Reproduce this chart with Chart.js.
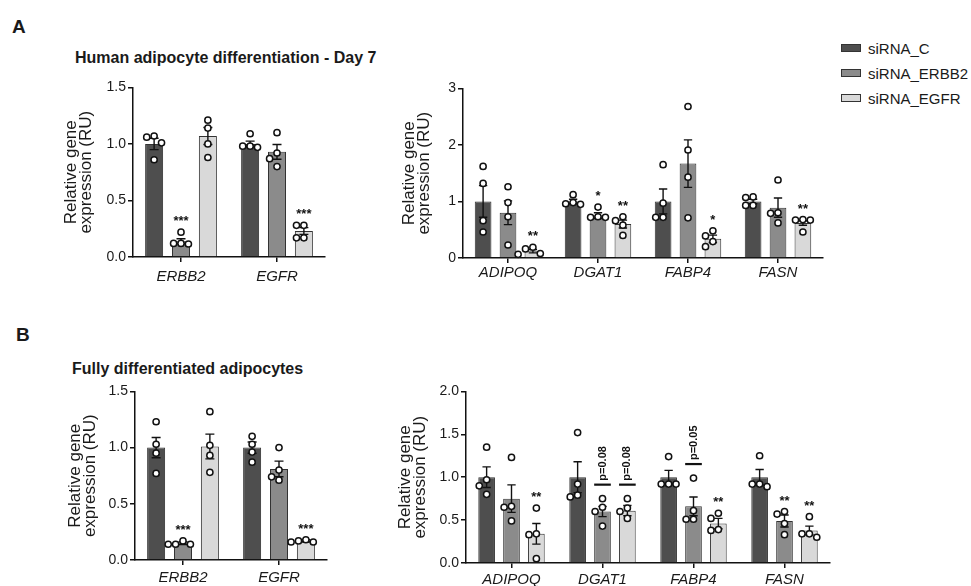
<!DOCTYPE html>
<html lang="en">
  <head>
    <meta charset="UTF-8" />
    <title>siRNA adipocyte gene expression</title>
    <script src="https://cdn.jsdelivr.net/npm/chart.js@4.4.1/dist/chart.umd.min.js"></script>
    <style>
      body { margin: 0; width: 971px; height: 586px; position: relative; background: #fff; overflow: hidden;
             font-family: "Liberation Sans", Arial, Helvetica, sans-serif; color: #1a1a1a; }
      canvas { position: absolute; }
      .txt { position: absolute; white-space: nowrap; line-height: 1; }
      .letter { font-weight: bold; font-size: 19px; }
      .title { font-weight: bold; font-size: 16px; }
      .leg { position: absolute; left: 841px; height: 18px; display: flex; align-items: center; font-size: 15px; }
      .leg span.box { width: 20px; height: 8px; border: 1px solid #333; box-sizing: border-box; margin-right: 7px; }
    </style>
  </head>
  <body>
    <div class="txt letter" style="left:12px; top:17px">A</div>
    <div class="txt letter" style="left:16px; top:325px">B</div>
    <div class="txt title" style="left:75px; top:50px">Human adipocyte differentiation - Day 7</div>
    <div class="txt title" style="left:72px; top:361px">Fully differentiated adipocytes</div>
    <div id="legend"></div>

    <canvas id="aLeft" width="269" height="210" style="left:64px; top:77px"></canvas>
    <canvas id="aRight" width="429" height="210" style="left:402px; top:78px"></canvas>
    <canvas id="bLeft" width="267" height="205" style="left:68px; top:381px"></canvas>
    <canvas id="bRight" width="440" height="205" style="left:398px; top:381px"></canvas>

    <script>
      // groups
      const groups = ["siRNA_C", "siRNA_ERBB2", "siRNA_EGFR"]
      const groupColors = ["#4e4e4e", "#8b8b8b", "#d9d9d9"]

      // A, left: knockdown targets, day 7
      const aLeftGenes = ["ERBB2", "EGFR"]
      const aLeftYTicks = ["0.0", "0.5", "1.0", "1.5"]
      const aLeftMeans = [[1.0, 1.0], [0.14, 0.93], [1.07, 0.23]]
      const aLeftSems = [[0.05, 0.025], [0.022, 0.065], [0.075, 0.03]]
      const aLeftPoints = [
        [[1.07, 1.06, 0.86, 1.01], [1.09, 0.98, 0.97, 0.98]],
        [[0.22, 0.12, 0.115, 0.12], [1.1, 0.92, 0.87, 0.8]],
        [[1.21, 1.14, 1.0, 0.88], [0.28, 0.28, 0.17, 0.17]],
      ]
      const aLeftSig = [["", ""], ["***", ""], ["", "***"]]

      // A, right: adipogenic markers, day 7
      const aRightGenes = ["ADIPOQ", "DGAT1", "FABP4", "FASN"]
      const aRightYTicks = ["0", "1", "2", "3"]
      const aRightMeans = [[1.0, 1.0, 1.0, 1.0], [0.8, 0.75, 1.67, 0.89], [0.12, 0.6, 0.34, 0.62]]
      const aRightSems = [[0.28, 0.04, 0.22, 0.04], [0.21, 0.05, 0.42, 0.17], [0.03, 0.07, 0.065, 0.04]]
      const aRightPoints = [
        [[1.62, 1.32, 0.66, 0.46], [1.12, 0.98, 0.96, 0.95], [1.65, 0.97, 0.72, 0.72], [1.08, 1.07, 0.93, 0.93]],
        [[1.26, 0.98, 0.73, 0.23], [0.9, 0.73, 0.72, 0.72], [2.68, 1.91, 1.43, 0.71], [1.38, 0.8, 0.79, 0.62]],
        [[0.065, 0.16, 0.19, 0.08], [0.73, 0.66, 0.58, 0.4], [0.48, 0.39, 0.29, 0.2], [0.68, 0.67, 0.67, 0.46]],
      ]
      const aRightSig = [["", "", "", ""], ["", "*", "", ""], ["**", "**", "*", "**"]]

      // B, left: knockdown targets, mature adipocytes
      const bLeftGenes = ["ERBB2", "EGFR"]
      const bLeftYTicks = ["0.0", "0.5", "1.0", "1.5"]
      const bLeftMeans = [[1.0, 1.0], [0.15, 0.81], [1.01, 0.17]]
      const bLeftSems = [[0.09, 0.05], [0.012, 0.07], [0.11, 0.01]]
      const bLeftPoints = [
        [[1.23, 1.03, 0.95, 0.77], [1.1, 1.03, 0.96, 0.87]],
        [[0.17, 0.14, 0.14, 0.14], [1.0, 0.8, 0.74, 0.71]],
        [[1.32, 1.02, 0.93, 0.78], [0.18, 0.17, 0.16, 0.16]],
      ]
      const bLeftSig = [["", ""], ["***", ""], ["", "***"]]

      // B, right: adipogenic markers, mature adipocytes
      const bRightGenes = ["ADIPOQ", "DGAT1", "FABP4", "FASN"]
      const bRightYTicks = ["0.0", "0.5", "1.0", "1.5", "2.0"]
      const bRightMeans = [[1.0, 1.0, 1.0, 1.0], [0.75, 0.6, 0.66, 0.49], [0.34, 0.61, 0.46, 0.38]]
      const bRightSems = [[0.12, 0.18, 0.08, 0.09], [0.16, 0.06, 0.11, 0.07], [0.12, 0.06, 0.06, 0.05]]
      const bRightPoints = [
        [[1.35, 0.97, 0.9, 0.8], [1.52, 0.92, 0.79, 0.77], [1.24, 0.92, 0.92, 0.92], [1.25, 0.92, 0.92, 0.89]],
        [[1.23, 0.66, 0.65, 0.49], [0.75, 0.65, 0.6, 0.43], [0.99, 0.61, 0.51, 0.51], [0.6, 0.57, 0.46, 0.33]],
        [[0.64, 0.34, 0.33, 0.05], [0.75, 0.64, 0.6, 0.52], [0.58, 0.52, 0.39, 0.38], [0.54, 0.34, 0.34, 0.3]],
      ]
      const bRightSig = [["", "", "", ""], ["", "p=0.08", "p=0.05", "**"], ["**", "p=0.08", "**", "**"]]

      const FONT = '"Liberation Sans", Arial, Helvetica, sans-serif'

      // legend
      const legend = document.getElementById("legend")
      groups.forEach((g, i) => {
        const row = document.createElement("div")
        row.className = "leg"
        row.style.top = 39 + i * 25 + "px"
        row.innerHTML = '<span class="box" style="background:' + groupColors[i] + '"></span>' + g
        legend.appendChild(row)
      })

      // error bars, dots and significance marks
      const dotPlugin = {
        id: "dots",
        afterDatasetsDraw(chart, args, opts) {
          const ctx = chart.ctx
          const y = chart.scales.y
          chart.data.datasets.forEach((ds, i) => {
            chart.getDatasetMeta(i).data.forEach((bar, j) => {
              const m = ds.data[j]
              const s = opts.sems[i][j]
              const x = bar.x
              const hw = bar.width / 4
              const top = y.getPixelForValue(m + s)
              const bot = y.getPixelForValue(m - s)
              ctx.save()
              ctx.strokeStyle = "#111"
              ctx.lineWidth = 1.4
              ctx.beginPath()
              ctx.moveTo(x, bot)
              ctx.lineTo(x, top)
              ctx.moveTo(x - hw, top)
              ctx.lineTo(x + hw, top)
              ctx.moveTo(x - hw, bot)
              ctx.lineTo(x + hw, bot)
              ctx.stroke()

              // little swarm so dots at the same level sit side by side
              const r = 3.1
              const vals = opts.points[i][j].slice().sort((a, b) => b - a)
              const placed = []
              vals.forEach((v) => {
                const py = y.getPixelForValue(v)
                let px = x
                for (const k of [0, -1, 1, -2, 2]) {
                  px = x + k * (2 * r + 1.2)
                  if (placed.every((p) => Math.hypot(p[0] - px, p[1] - py) >= 2 * r + 1)) break
                }
                placed.push([px, py])
              })
              ctx.lineWidth = 1.5
              ctx.fillStyle = "#fff"
              placed.forEach((p) => {
                ctx.beginPath()
                ctx.arc(p[0], p[1], r, 0, Math.PI * 2)
                ctx.fill()
                ctx.stroke()
              })

              const label = opts.sig[i][j]
              if (label) {
                const highest = Math.min(top, ...placed.map((p) => p[1]))
                ctx.fillStyle = "#111"
                if (label.startsWith("p=")) {
                  const ly = highest - 14
                  ctx.lineWidth = 2.2
                  ctx.beginPath()
                  ctx.moveTo(x - bar.width / 2, ly)
                  ctx.lineTo(x + bar.width / 2, ly)
                  ctx.stroke()
                  ctx.translate(x, ly - 4)
                  ctx.rotate(-Math.PI / 2)
                  ctx.font = "bold 11px " + FONT
                  ctx.textAlign = "left"
                  ctx.textBaseline = "middle"
                  ctx.fillText(label, 0, 0)
                } else {
                  ctx.font = "bold 13px " + FONT
                  ctx.textAlign = "center"
                  ctx.textBaseline = "alphabetic"
                  ctx.fillText(label, x, highest - 7)
                }
              }
              ctx.restore()
            })
          })
        },
      }

      function drawPanel(id, genes, yTicks, means, sems, points, sig, box) {
        const tickVals = yTicks.map(parseFloat)
        const ctx = document.getElementById(id).getContext("2d")
        return new Chart(ctx, {
          type: "bar",
          data: {
            labels: genes,
            datasets: groups.map((g, i) => ({
              label: g,
              data: means[i],
              backgroundColor: groupColors[i],
              borderColor: "#333",
              borderWidth: 1,
              categoryPercentage: box.catPct,
              barPercentage: 0.67,
            })),
          },
          plugins: [dotPlugin],
          options: {
            responsive: false,
            animation: false,
            layout: { padding: { left: 0, right: 8, top: 10, bottom: 0 } },
            plugins: {
              legend: { display: false },
              tooltip: { enabled: false },
              dots: { sems, points, sig },
            },
            scales: {
              x: {
                offset: true,
                grid: { display: true, offset: false, drawOnChartArea: false, tickLength: 5, color: "#111", lineWidth: 1.5 },
                border: { color: "#111", width: 1.5 },
                ticks: { color: "#1a1a1a", padding: box.xPad, font: { family: FONT, size: 15, style: "italic" } },
                afterFit: (scale) => { scale.height = box.xH },
              },
              y: {
                min: tickVals[0],
                max: tickVals[tickVals.length - 1],
                grid: { display: true, drawOnChartArea: false, tickLength: 5, color: "#111", lineWidth: 1.5 },
                border: { color: "#111", width: 1.5 },
                ticks: {
                  stepSize: tickVals[1] - tickVals[0],
                  color: "#1a1a1a",
                  padding: 2,
                  font: { family: FONT, size: 14 },
                  callback: (v) => yTicks[tickVals.findIndex((t) => Math.abs(t - v) < 1e-6)],
                },
                title: {
                  display: true,
                  text: ["Relative gene", "expression (RU)"],
                  color: "#1a1a1a",
                  padding: 0,
                  font: { family: FONT, size: 17, lineHeight: 0.88 },
                },
                afterFit: (scale) => { scale.width = box.yW },
              },
            },
          },
        })
      }

      drawPanel("aLeft", aLeftGenes, aLeftYTicks, aLeftMeans, aLeftSems, aLeftPoints, aLeftSig,
        { catPct: 0.84, yW: 69, xH: 30, xPad: 6 })
      drawPanel("aRight", aRightGenes, aRightYTicks, aRightMeans, aRightSems, aRightPoints, aRightSig,
        { catPct: 0.83, yW: 61, xH: 30, xPad: 1 })
      drawPanel("bLeft", bLeftGenes, bLeftYTicks, bLeftMeans, bLeftSems, bLeftPoints, bLeftSig,
        { catPct: 0.84, yW: 67, xH: 26, xPad: 4 })
      drawPanel("bRight", bRightGenes, bRightYTicks, bRightMeans, bRightSems, bRightPoints, bRightSig,
        { catPct: 0.82, yW: 68, xH: 23, xPad: 3 })
    </script>
  </body>
</html>
